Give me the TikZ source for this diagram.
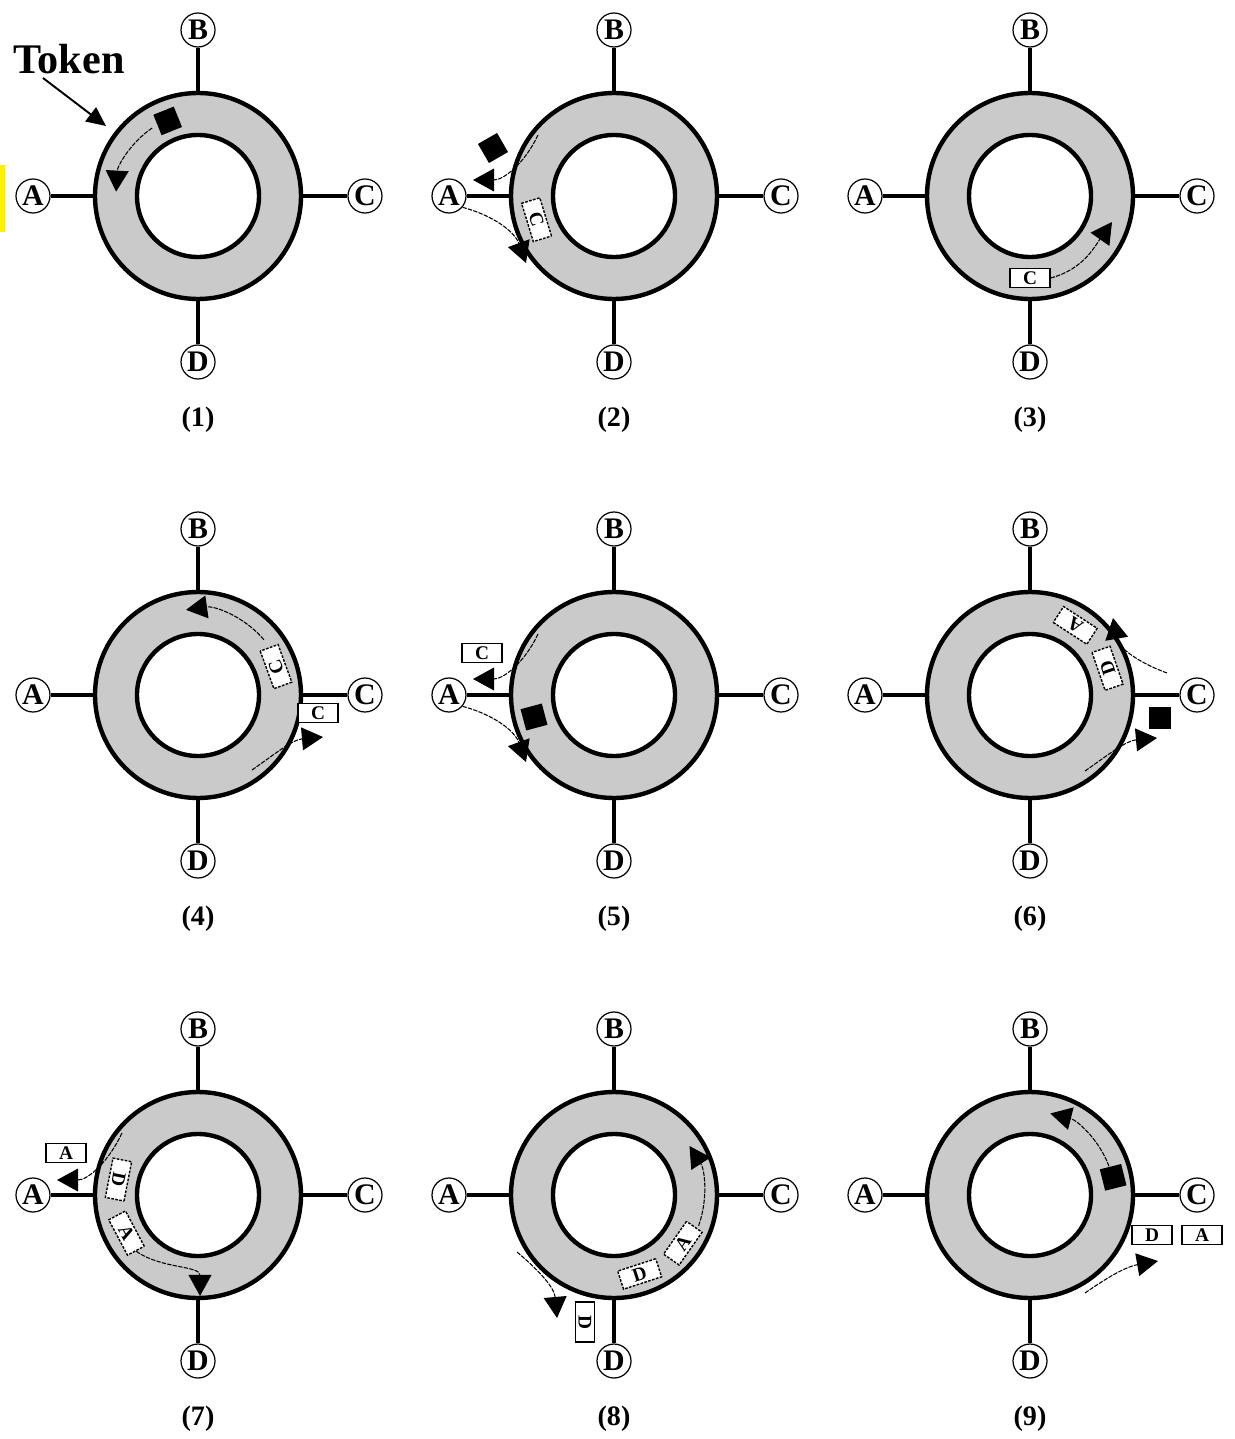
\documentclass[tikz,border=0pt]{standalone}
\usepackage{fontspec}
\setmainfont{Liberation Serif}
\usetikzlibrary{arrows.meta}
\definecolor{ringgray}{RGB}{202,202,202}
\tikzset{
  station/.style={circle, draw, line width=0.7pt, fill=white, minimum size=0.68cm, inner sep=0pt,
    font=\fontsize{17}{18}\selectfont\bfseries},
  wire/.style={line width=2pt},
  ringfill/.style={fill=ringgray, draw, line width=2.5pt},
  holefill/.style={fill=white, draw, line width=2.5pt},
  pkt/.style={draw, fill=white, line width=0.8pt, minimum width=0.8cm, minimum height=0.38cm, inner sep=0pt,
    font=\fontsize{11}{12}\selectfont\bfseries},
  wavy/.style={dash pattern=on 1.5pt off 0.8pt},
  tokbox/.style={fill=black, minimum size=0.44cm, inner sep=0pt},
  flow/.style={line width=0.6pt, dash pattern=on 2.5pt off 0.7pt},
  pointer/.style={line width=1.1pt},
  panellbl/.style={font=\fontsize{16}{18}\selectfont\bfseries},
  tokenlbl/.style={font=\fontsize{24}{26}\selectfont\bfseries},
  >={Triangle[length=12pt,width=13pt]}
}

\begin{document}
\begin{tikzpicture}[x=0.02cm, y=0.02cm]
        \useasboundingbox (0,0) rectangle (1234,-1439);
        \fill[yellow] (0,-165) rectangle (5,-232);
        % rings and stations
        \foreach \p/\cx/\cy in {1/198/196, 2/614/196, 3/1030/196,
                                4/198/695, 5/614/695, 6/1030/695,
                                7/198/1195, 8/614/1195, 9/1030/1195} {
                \coordinate (c\p) at (\cx,-\cy);
                \node[station] (A\p) at (\cx-165,-\cy) {A};
                \node[station] (B\p) at (\cx,-\cy+166) {B};
                \node[station] (C\p) at (\cx+167,-\cy) {C};
                \node[station] (D\p) at (\cx,-\cy-166) {D};
                \draw[wire] (A\p) -- (c\p);
                \draw[wire] (B\p) -- (c\p);
                \draw[wire] (C\p) -- (c\p);
                \draw[wire] (D\p) -- (c\p);
                \filldraw[ringfill] (c\p) circle[radius=103];
                \filldraw[holefill] (c\p) circle[radius=61];
                \node[panellbl] (n\p) at (\cx,-\cy-224) {(\p)};
        }
        % (1)
        \node[tokenlbl] (toklbl) at (69,-59) {Token};
        \coordinate (tk0) at (43,-78);
        \coordinate (tk1) at (106,-126);
        \draw[pointer,-{Triangle[length=11pt,width=10pt]}] (tk0) -- (tk1);
        \node[tokbox, rotate=22] (tok1) at ([shift={(112:81)}]c1) {};
        \coordinate (s1) at ([shift={(124:82)}]c1);
        \draw[flow,->] (s1) arc[start angle=124, end angle=177, radius=82];
        % (2)
        \node[tokbox, rotate=30] (tok2) at (493,-148) {};
        \coordinate (s2) at (538,-135);
        \coordinate (e2) at (473,-180);
        \draw[flow,->] (s2) to[out=245,in=0] (e2);
        \node[pkt, wavy, rotate=-73] (p2) at ([shift={(197:81)}]c2) {C};
        \coordinate (e2b) at (526,-263);
        \draw[flow,->] (A2.-40) to[out=-15,in=110] (e2b);
        % (3)
        \node[pkt] (p3) at (1030,-278) {C};
        \coordinate (e3) at (1112,-222);
        \draw[flow,->] (p3.east) to[out=15,in=235] (e3);
        % (4)
        \coordinate (s4a) at ([shift={(40:86)}]c4);
        \draw[flow,->] (s4a) arc[start angle=40, end angle=98, radius=86];
        \node[pkt, wavy, rotate=110] (p4a) at ([shift={(20:83)}]c4) {C};
        \node[pkt] (p4b) at (318,-713) {C};
        \coordinate (s4b) at (252,-770);
        \coordinate (e4b) at (323,-737);
        \draw[flow,->] (s4b) to[out=35,in=185] (e4b);
        % (5)
        \node[pkt] (p5) at (482,-653) {C};
        \coordinate (s5) at (538,-634);
        \coordinate (e5) at (473,-679);
        \draw[flow,->] (s5) to[out=245,in=0] (e5);
        \node[tokbox, rotate=15] (tok5) at (534,-717) {};
        \coordinate (e5b) at (526,-762);
        \draw[flow,->] (A5.-40) to[out=-15,in=110] (e5b);
        % (6)
        \node[pkt, wavy, rotate=147] (p6a) at ([shift={(57:83)}]c6) {A};
        \node[pkt, wavy, rotate=109] (p6d) at ([shift={(19:82)}]c6) {D};
        \coordinate (s6) at (1167,-673);
        \coordinate (e6) at (1113,-618);
        \draw[flow,->] (s6) to[out=160,in=-80] (e6);
        \node[tokbox] (tok6) at (1160,-718) {};
        \coordinate (s6b) at (1085,-771);
        \coordinate (e6b) at (1157,-738);
        \draw[flow,->] (s6b) to[out=35,in=185] (e6b);
        % (7)
        \node[pkt] (p7) at (66,-1153) {A};
        \coordinate (s7) at (122,-1133);
        \coordinate (e7) at (57,-1180);
        \draw[flow,->] (s7) to[out=245,in=0] (e7);
        \node[pkt, wavy, rotate=259] (p7d) at ([shift={(169:81)}]c7) {D};
        \node[pkt, wavy, rotate=298] (p7a) at ([shift={(208:81)}]c7) {A};
        \coordinate (e7b) at (200,-1296);
        \draw[flow,->] (p7a.east) to[out=-35,in=90] (e7b);
        % (8)
        \node[pkt, wavy, rotate=55] (p8a) at ([shift={(-35:84)}]c8) {A};
        \node[pkt, wavy, rotate=18] (p8d) at ([shift={(-72:83)}]c8) {D};
        \coordinate (s8) at ([shift={(-20:90)}]c8);
        \draw[flow,->] (s8) arc[start angle=-20, end angle=33, radius=90];
        \coordinate (s8b) at (517,-1252);
        \coordinate (e8b) at (557,-1318);
        \draw[flow,->] (s8b) to[out=-40,in=95] (e8b);
        \node[pkt, rotate=-90] (p8) at (585,-1322) {D};
        % (9)
        \node[tokbox, rotate=14] (tok9) at ([shift={(12:85)}]c9) {};
        \coordinate (s9) at ([shift={(20:84)}]c9);
        \draw[flow,->] (s9) arc[start angle=20, end angle=76, radius=84];
        \node[pkt] (p9d) at (1152,-1235) {D};
        \node[pkt] (p9a) at (1202,-1235) {A};
        \coordinate (s9b) at (1085,-1293);
        \coordinate (e9b) at (1158,-1261);
        \draw[flow,->] (s9b) to[out=35,in=190] (e9b);
\end{tikzpicture}
\end{document}
